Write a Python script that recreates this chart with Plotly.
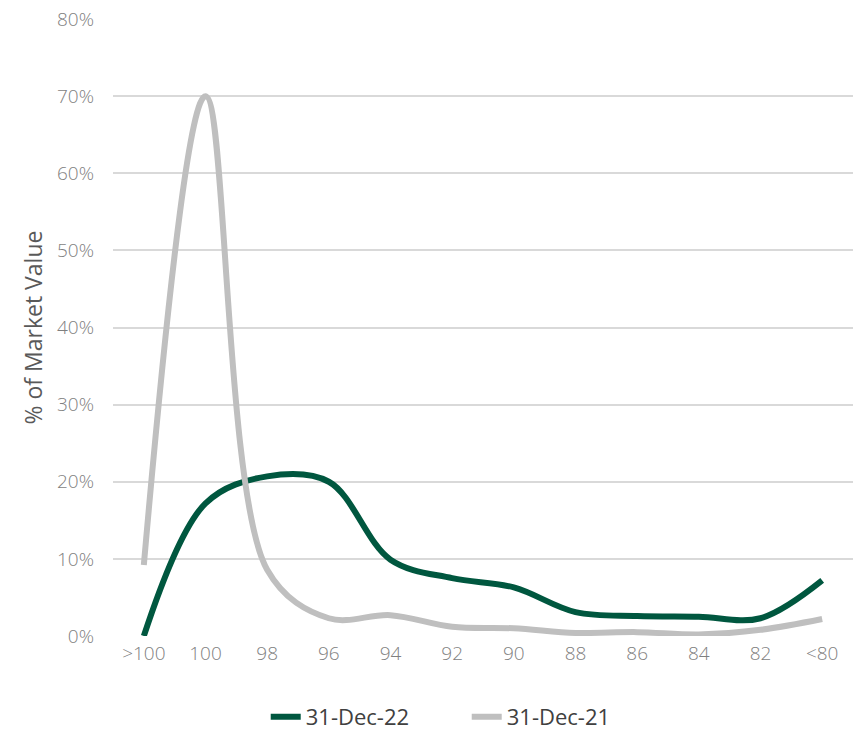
import plotly.graph_objects as go

categories = [">100", "100", "98", "96", "94", "92", "90", "88", "86", "84", "82", "<80"]
dec22 = [0.0, 17.2, 20.7, 20.0, 9.9, 7.5, 6.3, 3.1, 2.6, 2.5, 2.3, 7.2]
dec21 = [9.2, 70.0, 8.6, 2.3, 2.7, 1.2, 1.0, 0.4, 0.5, 0.2, 0.8, 2.2]
y_ticks = [0, 10, 20, 30, 40, 50, 60, 70, 80]
y_ticklabels = [f"{v}%" for v in y_ticks]

fig = go.Figure()
fig.add_trace(go.Scatter(
    x=categories, y=dec22, name="31-Dec-22", mode="lines",
    line=dict(color="#00573F", width=6, shape="spline", smoothing=1.0),
))
fig.add_trace(go.Scatter(
    x=categories, y=dec21, name="31-Dec-21", mode="lines",
    line=dict(color="#BFBFBF", width=6, shape="spline", smoothing=1.0),
))

fig.update_layout(
    width=859, height=730,
    margin=dict(l=113, r=6, t=19, b=94, autoexpand=False),
    paper_bgcolor="white", plot_bgcolor="white",
    font=dict(family="Open Sans, Noto Sans, sans-serif", color="#7F7F7F"),
    showlegend=True,
    legend=dict(
        orientation="h",
        x=0.478, xanchor="center", y=-0.131, yanchor="middle",
        font=dict(size=22, color="#404040"),
        traceorder="normal", entrywidth=156, entrywidthmode="pixels",
    ),
    xaxis=dict(
        type="category", categoryorder="array", categoryarray=categories,
        range=[-0.5, 11.5], showgrid=False, showline=False, zeroline=False,
        ticks="", tickfont=dict(size=19, color="#7F7F7F", weight=300), ticklabelstandoff=4,
    ),
    yaxis=dict(
        range=[0, 80], tickvals=y_ticks, ticktext=y_ticklabels,
        showgrid=True, gridcolor="#D9D9D9", gridwidth=2,
        zeroline=False, showline=False, ticks="",
        tickfont=dict(size=19, color="#7F7F7F", weight=300), ticklabelstandoff=18,
        automargin=False,
        title=dict(text="% of Market Value", font=dict(size=23, color="#595959"), standoff=7),
    ),
)

fig.write_html(
    "out.html",
    config={"displayModeBar": False},
    post_script="document.body.style.margin='0';document.body.style.padding='0';",
)
